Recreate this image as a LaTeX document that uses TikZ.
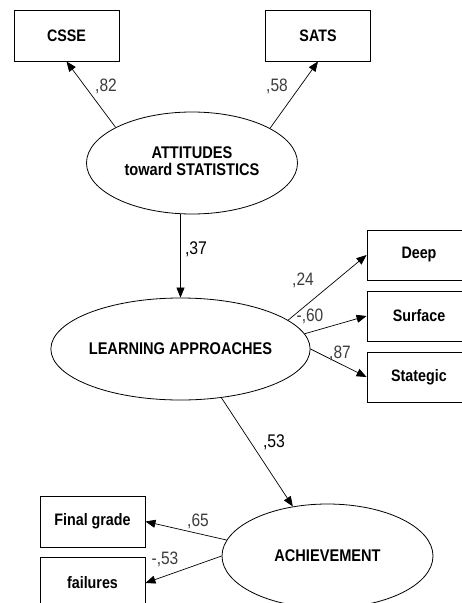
\documentclass[tikz,border=0pt]{standalone}
\usepackage{fontspec}
\setmainfont{Liberation Sans}
\usetikzlibrary{arrows.meta,shapes.geometric}
\definecolor{lblgray}{RGB}{60,60,60}
\newcommand\vst[1]{\scalebox{1}[1.16]{#1}}
\begin{document}
\begin{tikzpicture}[x=1pt,y=-1pt,
  obsbox/.style={draw=black,line width=0.9pt,rectangle,minimum width=105pt,minimum height=51pt,inner sep=0pt,font=\fontsize{14.3}{16}\selectfont\bfseries},
  latent/.style={draw=black,line width=0.8pt,ellipse,minimum width=211pt,minimum height=102pt,inner sep=0pt,align=center,font=\fontsize{14.6}{13}\selectfont\bfseries},
  path/.style={draw=black,line width=0.7pt,-{Triangle[length=10pt,width=8pt]}},
  coef/.style={font=\fontsize{15.5}{16}\selectfont,text=lblgray,inner sep=0pt},
  coefb/.style={font=\fontsize{15.8}{16}\selectfont,text=black,inner sep=0pt}]
\useasboundingbox (0,0) rectangle (462,603);
\clip (0,0) rectangle (462,603);
\fill[white] (0,0) rectangle (462,603);
% observed
\node[obsbox] (csse) at (66.5,35.5) {\vst{CSSE}};
\node[obsbox] (sats) at (318,35.5) {\vst{SATS}};
\node[obsbox,minimum width=104pt,minimum height=50pt] (deep) at (419,255) {\vst{Deep}};
\node[obsbox,minimum width=104pt,minimum height=50pt] (surface) at (419,316) {\vst{Surface}};
\node[obsbox,minimum width=104pt,minimum height=50pt] (stategic) at (419,377) {\vst{Stategic}};
\node[obsbox] (final) at (92.5,521.5) {\vst{Final grade}};
\node[obsbox] (failures) at (92.5,583) {\vst{failures}};
% latent
\node[latent] (att) at (192,163) {\vst{\begin{tabular}{@{}c@{}}ATTITUDES\\toward STATISTICS\end{tabular}}};
\node[latent] (learn) at (180.5,349) {\vst{LEARNING APPROACHES}};
\node[latent,minimum height=104pt] (ach) at (327.5,556) {\vst{ACHIEVEMENT}};
% paths
\draw[path] (att.155.6) -- (csse.south);
\draw[path] (att.24.2) -- (sats.south);
\draw[path] (att.south -| learn.north) -- (learn.north);
\draw[path] (learn.15.7) -- (deep.west);
\draw[path] (learn.7.8) -- (surface.west);
\draw[path] (learn.east) -- (stategic.west);
\draw[path] (learn.-50) -- (ach.125);
\draw[path] (ach.171.7) -- (final.east);
\draw[path] (ach.west) -- (failures.east);
% coefficients
\node[coef] (c1) at (106,86) {\vst{,82}};
\node[coef] (c2) at (277,86) {\vst{,58}};
\node[coefb] (c3) at (196,249) {\vst{,37}};
\node[coef] (c4) at (303,280) {\vst{,24}};
\node[coef] (c5) at (310,316) {\vst{-,60}};
\node[coef] (c6) at (340,353) {\vst{,87}};
\node[coefb] (c7) at (274,442) {\vst{,53}};
\node[coef] (c8) at (198,521) {\vst{,65}};
\node[coef] (c9) at (165,559) {\vst{-,53}};
\end{tikzpicture}
\end{document}
